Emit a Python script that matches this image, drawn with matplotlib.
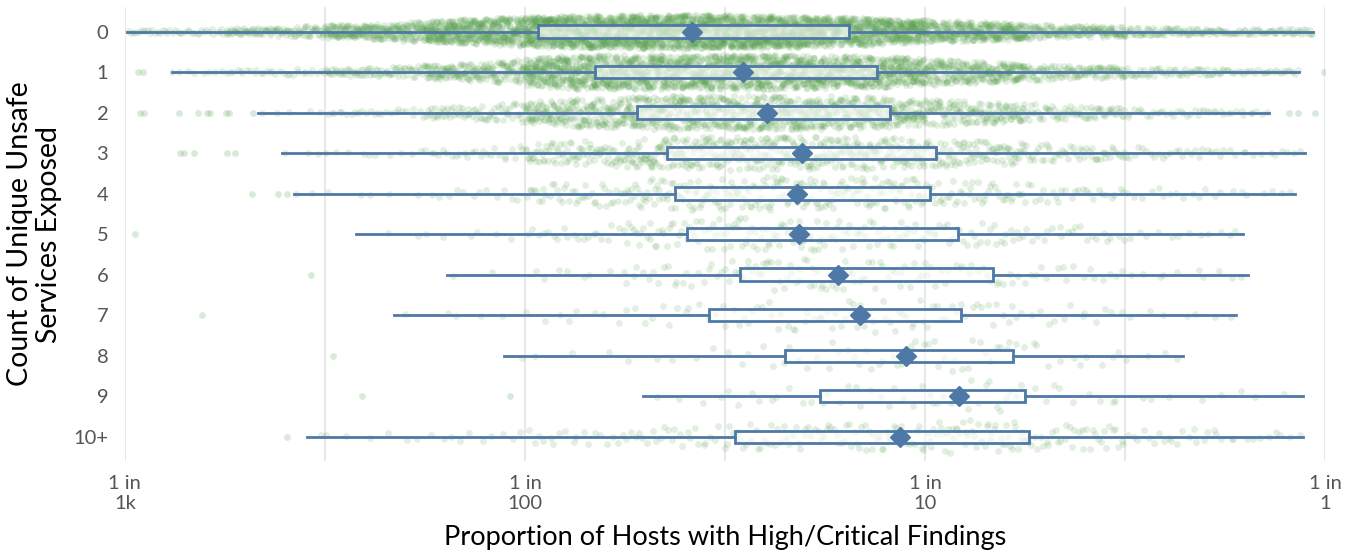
import numpy as np
import matplotlib.pyplot as plt

plt.rcParams['font.family'] = ['Lato', 'DejaVu Sans']

# rows of the chart, top to bottom
rows = ['0', '1', '2', '3', '4', '5', '6', '7', '8', '9', '10+']

# box stats, proportion of hosts with high/critical findings
whislo = [0.001012, 0.001311, 0.002150, 0.002469, 0.002646, 0.003780,
          0.006383, 0.004704, 0.008860, 0.01972, 0.002851]
q1 = [0.01078, 0.01496, 0.01905, 0.02265, 0.02371, 0.02541,
      0.03449, 0.02884, 0.04467, 0.05464, 0.03350]
med = [0.02615, 0.03508, 0.04027, 0.04926, 0.04786, 0.04842,
       0.06061, 0.06879, 0.08964, 0.1216, 0.08660]
q3 = [0.06457, 0.07586, 0.08175, 0.1065, 0.1029, 0.1209,
      0.1479, 0.1230, 0.1660, 0.1778, 0.1820]
whishi = [0.9333, 0.8610, 0.7244, 0.8913, 0.8414, 0.6237,
          0.6419, 0.5990, 0.4416, 0.8810, 0.8810]

bin_edges = np.arange(-3, 0.001, 0.25)
counts = [
    [40, 110, 250, 470, 650, 700, 650, 500, 320, 160, 90, 60],
    [8, 30, 80, 190, 440, 450, 450, 400, 250, 120, 60, 30],
    [0, 5, 25, 70, 200, 260, 260, 230, 150, 70, 30, 10],
    [0, 3, 10, 25, 85, 130, 140, 130, 90, 50, 25, 12],
    [0, 2, 5, 12, 40, 65, 70, 65, 45, 25, 14, 7],
    [0, 0, 2, 6, 20, 40, 50, 38, 30, 20, 10, 2],
    [0, 0, 0, 2, 8, 20, 35, 28, 22, 15, 8, 2],
    [0, 0, 1, 4, 8, 13, 20, 24, 20, 12, 6, 1],
    [0, 0, 0, 1, 3, 5, 10, 16, 18, 10, 4, 0],
    [0, 0, 0, 0, 0, 4, 10, 12, 18, 9, 5, 3],
    [0, 1, 6, 10, 18, 25, 35, 40, 50, 35, 20, 10],
]

# points outside the whiskers
outliers = [
    [],
    [0.001078, 0.001109, 0.9943],
    [0.001090, 0.001115, 0.001365, 0.001523, 0.001603, 0.001631,
     0.001789, 0.001820, 0.002089, 0.8128, 0.8560, 0.9441],
    [0.001373, 0.001405, 0.001488, 0.001799, 0.001884],
    [0.002077, 0.002413, 0.002541],
    [0.001059],
    [0.002917],
    [0.001558],
    [0.003311],
    [0.003914, 0.009173],
    [0.002541],
]

blue = '#4e79a7'
green = '#59a14f'


def hash01(k, seed):
    # deterministic scatter for the jitter
    return (np.sin(k * 12.9898 + seed * 78.233) * 43758.5453) % 1


fig, ax = plt.subplots(figsize=(13.58, 5.54), dpi=100)
fig.subplots_adjust(left=0.092, right=0.9757, bottom=0.168, top=0.987)

# jittered cloud (sina style: spread follows the local density)
centers = (bin_edges[:-1] + bin_edges[1:]) / 2
for i in range(len(rows)):
    c = np.array(counts[i], float)
    edges = np.clip(bin_edges, np.log10(whislo[i]), np.log10(whishi[i]))
    cum = np.concatenate([[0], np.cumsum(c)])
    n = int(cum[-1])
    k = np.arange(n)
    u = k + 0.5 + 0.9 * (hash01(k, i + 1) - 0.5)
    v = hash01(k, i + 31)
    lx = np.interp(u, cum, edges)
    w = np.interp(lx, centers, c / c.max()) ** 0.75
    y = i + (2 * v - 1) * 0.42 * np.maximum(w, 0.05)
    ax.scatter(10 ** lx, y, s=24, color=green, alpha=0.17, linewidths=0, zorder=2)
    if outliers[i]:
        ax.scatter(outliers[i], [i] * len(outliers[i]), s=24, color=green,
                   alpha=0.22, linewidths=0, zorder=2)

stats = [dict(whislo=whislo[i], q1=q1[i], med=med[i], q3=q3[i], whishi=whishi[i])
         for i in range(len(rows))]
ax.bxp(stats, positions=range(len(rows)), widths=0.3, orientation='horizontal',
       showfliers=False, showcaps=False, patch_artist=True,
       boxprops=dict(facecolor=(1, 1, 1, 0.6), edgecolor=blue, linewidth=2.0),
       whiskerprops=dict(color=blue, linewidth=2.0),
       medianprops=dict(linewidth=0), zorder=3)
ax.plot(med, range(len(rows)), 'D', color=blue, markersize=10, zorder=4)

ax.set_xscale('log')
ax.set_xlim(1e-3, 1)
ax.set_ylim(10.6, -0.6)
ax.set_xticks([1e-3, 1e-2, 1e-1, 1])
ax.set_xticklabels(['1 in\n1k', '1 in\n100', '1 in\n10', '1 in\n1'])
ax.set_xticks([10 ** -2.5, 10 ** -1.5, 10 ** -0.5], minor=True)
ax.set_xticklabels([], minor=True)
ax.set_yticks(range(len(rows)))
ax.set_yticklabels(rows)
ax.tick_params(axis='both', which='both', length=0, labelsize=14.5, colors='#555555')
ax.tick_params(axis='y', pad=12)
ax.tick_params(axis='x', pad=10)
ax.grid(axis='x', which='both', color='#e8e8e8', linewidth=1.5, zorder=0)
ax.set_axisbelow(True)
for s in ax.spines.values():
    s.set_visible(False)

ax.set_xlabel('Proportion of Hosts with High/Critical Findings', fontsize=19.5, labelpad=9.5)
ax.set_ylabel('Count of Unique Unsafe\nServices Exposed', fontsize=20.5, labelpad=8,
              linespacing=1.15)

fig.savefig('out.png', dpi=100)
